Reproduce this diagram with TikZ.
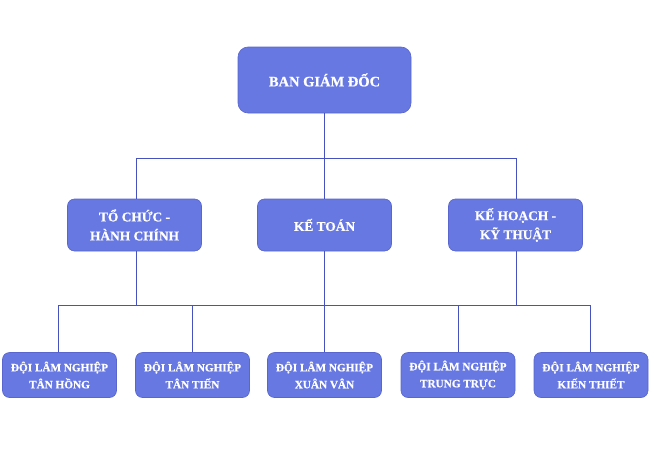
\documentclass[tikz,border=0pt]{standalone}
\usepackage{fontspec}
\setmainfont{Liberation Serif}[BoldFeatures={FakeBold=0.6}]
\definecolor{boxfill}{RGB}{103,120,226}
\definecolor{boxdraw}{RGB}{88,102,205}
\definecolor{linecol}{RGB}{70,82,190}
\tikzset{
  unitbox/.style={draw=boxdraw, fill=boxfill, rounded corners=7pt, text=white,
    font=\bfseries, align=center, inner sep=0pt, line width=0.6pt},
  topbox/.style={unitbox, minimum width=173pt, minimum height=66pt, rounded corners=10pt, font=\fontsize{14.5}{17}\selectfont\bfseries},
  midbox/.style={unitbox, minimum width=134pt, minimum height=52pt, font=\fontsize{13.4}{19}\selectfont\bfseries},
  lowbox/.style={unitbox, minimum width=114pt, minimum height=45pt, font=\fontsize{11.2}{17}\selectfont\bfseries},
  conn/.style={draw=linecol, line width=0.9pt}
}
\begin{document}
\begin{tikzpicture}[x=1pt,y=-1pt]
\useasboundingbox (0,0) rectangle (650,450);
\node[topbox] (top) at (324.5,80) {BAN GIÁM ĐỐC};
\node[midbox] (m1) at (134.5,225) {TỔ CHỨC -\\HÀNH CHÍNH};
\node[midbox] (m2) at (324.5,225) {KẾ TOÁN};
\node[midbox] (m3) at (515.5,225) {KẾ HOẠCH -\\KỸ THUẬT};
\node[lowbox] (b1) at (59.5,375) {ĐỘI LÂM NGHIỆP\\TÂN HỒNG};
\node[lowbox] (b2) at (192.5,375) {ĐỘI LÂM NGHIỆP\\TÂN TIẾN};
\node[lowbox] (b3) at (324.5,375) {ĐỘI LÂM NGHIỆP\\XUÂN VÂN};
\node[lowbox] (b4) at (458,375) {ĐỘI LÂM NGHIỆP\\TRUNG TRỰC};
\node[lowbox] (b5) at (591,375) {ĐỘI LÂM NGHIỆP\\KIẾN THIẾT};
\coordinate (j1) at (324.5,158);
\coordinate (j2) at (324.5,305);
\draw[conn] (top.south) -- (j1);
\draw[conn] (j1) -| ([xshift=2pt]m1.north);
\draw[conn] (j1) -- (m2.north);
\draw[conn] (j1) -| ([xshift=1pt]m3.north);
\draw[conn] ([xshift=2pt]m1.south) |- (j2);
\draw[conn] (m2.south) -- (j2);
\draw[conn] ([xshift=1pt]m3.south) |- (j2);
\draw[conn] (j2) -| ([xshift=-1.5pt]b1.north);
\draw[conn] (j2) -| (b2.north);
\draw[conn] (j2) -- (b3.north);
\draw[conn] (j2) -| (b4.north);
\draw[conn] (j2) -| ([xshift=-1pt]b5.north);
\end{tikzpicture}
\end{document}
